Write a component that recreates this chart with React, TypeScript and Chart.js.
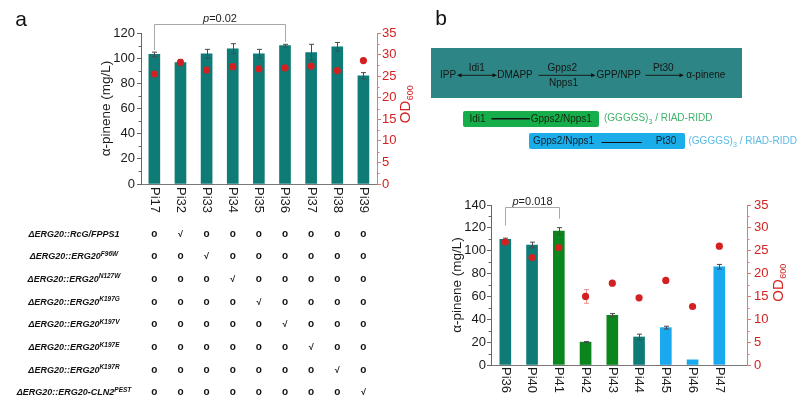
import React, { useEffect, useRef } from "react";
import { Chart, registerables } from "chart.js";

Chart.register(...registerables);

const FONT = "'Liberation Sans', Arial, Helvetica, sans-serif";
const PALETTE: Record<string, string> = { teal: "#0e7b77", green: "#0b861d", blue: "#1aa8ee" };
const RED = "#d42020";
const AXIS_RED = "#e07878";

// ---------- Panel a data ----------
const strainsA = ["Pi17", "Pi32", "Pi33", "Pi34", "Pi35", "Pi36", "Pi37", "Pi38", "Pi39"];
const pineneA = [103, 96.5, 103.5, 107.5, 103.5, 110, 104.5, 109, 86];
const pineneErrA = [1.8, 2.5, 3.5, 4, 3.5, 1, 6.5, 3.5, 2.5];
const odA = [25.5, 28.2, 26.4, 27.2, 26.7, 26.9, 27.3, 26.3, 28.6];
const odErrA = [0, 0, 0, 0, 0, 0, 0, 0, 0];
const groupA = ["teal", "teal", "teal", "teal", "teal", "teal", "teal", "teal", "teal"];
const pineneTicksA = [0, 20, 40, 60, 80, 100, 120];
const odTicks = [0, 5, 10, 15, 20, 25, 30, 35];

// genotype table under panel a
const geneRows = [
  { base: "ΔERG20::RcG/FPPS1", sup: "" },
  { base: "ΔERG20::ERG20", sup: "F96W" },
  { base: "ΔERG20::ERG20", sup: "N127W" },
  { base: "ΔERG20::ERG20", sup: "K197G" },
  { base: "ΔERG20::ERG20", sup: "K197V" },
  { base: "ΔERG20::ERG20", sup: "K197E" },
  { base: "ΔERG20::ERG20", sup: "K197R" },
  { base: "ΔERG20::ERG20-CLN2", sup: "PEST" },
];
const checkColumn = [1, 2, 3, 4, 5, 6, 7, 8];

// ---------- Panel b data ----------
const strainsB = ["Pi36", "Pi40", "Pi41", "Pi42", "Pi43", "Pi44", "Pi45", "Pi46", "Pi47"];
const pineneB = [110, 105, 117.2, 20, 43.5, 24.5, 32.7, 4.5, 86];
const pineneErrB = [1, 2.5, 3, 0.5, 1.5, 2.5, 1.2, 0, 2];
const odB = [26.9, 23.5, 25.7, 15.0, 17.9, 14.7, 18.5, 12.8, 26.0];
const odErrB = [0.4, 0, 0, 1.5, 0, 0, 0, 0, 0];
const groupB = ["teal", "teal", "green", "green", "green", "teal", "blue", "blue", "blue"];
const pineneTicksB = [0, 20, 40, 60, 80, 100, 120, 140];

type Panel = {
  labels: string[];
  values: number[];
  errs: number[];
  od: number[];
  odErr: number[];
  colors: string[];
  yTicks: number[];
  odTicks: number[];
  width: number;
  height: number;
  area: { left: number; right: number; top: number; bottom: number };
  xMin: number;
  xMax: number;
  bracket: { from: number; to: number; level: number; footFrom: number; footTo: number; text: string };
  labelGap: number;
  yTitleX: number;
  odTitleX: number;
  odTitleDy: number;
  leftPad: number;
  rightPad: number;
};

const panelA: Panel = {
  labels: strainsA,
  values: pineneA,
  errs: pineneErrA,
  od: odA,
  odErr: odErrA,
  colors: groupA.map((g) => PALETTE[g]),
  yTicks: pineneTicksA,
  odTicks: odTicks,
  width: 420,
  height: 232,
  area: { left: 141, right: 377, top: 33, bottom: 184 },
  xMin: -0.51,
  xMax: 8.52,
  bracket: { from: 0, to: 5, level: 127, footFrom: 106.5, footTo: 113, text: "=0.02" },
  labelGap: 3,
  yTitleX: 106,
  odTitleX: 404,
  odTitleDy: -4,
  leftPad: 2,
  rightPad: 1,
};

const panelB: Panel = {
  labels: strainsB,
  values: pineneB,
  errs: pineneErrB,
  od: odB,
  odErr: odErrB,
  colors: groupB.map((g) => PALETTE[g]),
  yTicks: pineneTicksB,
  odTicks: odTicks,
  width: 400,
  height: 218,
  area: { left: 91, right: 347, top: 20, bottom: 180 },
  xMin: -0.535,
  xMax: 9.035,
  bracket: { from: 0, to: 2, level: 138, footFrom: 122, footTo: 128, text: "=0.018" },
  labelGap: 2,
  yTitleX: 57,
  odTitleX: 377,
  odTitleDy: -2,
  leftPad: 1,
  rightPad: 3,
};

function makeDecor(p: Panel) {
  return {
    id: "decor",
    afterDatasetDraw(chart: any, args: any) {
      if (args.index !== 0) return;
      const ctx = chart.ctx;
      const xs = chart.scales.x;
      const ys = chart.scales.y;
      ctx.save();
      ctx.strokeStyle = "#4a4a4a";
      ctx.lineWidth = 1;
      p.values.forEach((v, i) => {
        const e = p.errs[i];
        if (!e) return;
        const x = Math.round(xs.getPixelForValue(i)) + 0.5;
        const yt = ys.getPixelForValue(v + e);
        const yb = ys.getPixelForValue(v - e);
        ctx.beginPath();
        ctx.moveTo(x, yt);
        ctx.lineTo(x, yb);
        ctx.moveTo(x - 2.5, yt);
        ctx.lineTo(x + 2.5, yt);
        ctx.moveTo(x - 2.5, yb);
        ctx.lineTo(x + 2.5, yb);
        ctx.stroke();
      });
      // OD error bars
      const y1 = chart.scales.y1;
      ctx.strokeStyle = "#e89090";
      p.od.forEach((v, i) => {
        const e = p.odErr[i];
        if (!e) return;
        const x = Math.round(xs.getPixelForValue(i)) + 0.5;
        const yt = y1.getPixelForValue(v + e);
        const yb = y1.getPixelForValue(v - e);
        ctx.beginPath();
        ctx.moveTo(x, yt);
        ctx.lineTo(x, yb);
        ctx.moveTo(x - 2.5, yt);
        ctx.lineTo(x + 2.5, yt);
        ctx.moveTo(x - 2.5, yb);
        ctx.lineTo(x + 2.5, yb);
        ctx.stroke();
      });
      ctx.restore();
    },
    afterDraw(chart: any) {
      const ctx = chart.ctx;
      const xs = chart.scales.x;
      const ys = chart.scales.y;
      const y1 = chart.scales.y1;
      const area = chart.chartArea;
      ctx.save();

      // minor ticks
      ctx.lineWidth = 1;
      ctx.strokeStyle = "#666";
      const stepY = p.yTicks[1] - p.yTicks[0];
      for (let k = 0; k < p.yTicks.length - 1; k++) {
        const yy = Math.round(ys.getPixelForValue(p.yTicks[k] + stepY / 2)) + 0.5;
        ctx.beginPath();
        ctx.moveTo(area.left, yy);
        ctx.lineTo(area.left - 2.5, yy);
        ctx.stroke();
      }
      ctx.strokeStyle = AXIS_RED;
      const stepO = p.odTicks[1] - p.odTicks[0];
      for (let k = 0; k < p.odTicks.length - 1; k++) {
        const yy = Math.round(y1.getPixelForValue(p.odTicks[k] + stepO / 2)) + 0.5;
        ctx.beginPath();
        ctx.moveTo(area.right, yy);
        ctx.lineTo(area.right + 2.5, yy);
        ctx.stroke();
      }

      // bracket with p value
      const b = p.bracket;
      const bx1 = Math.round(xs.getPixelForValue(b.from)) + 0.5;
      const bx2 = Math.round(xs.getPixelForValue(b.to)) + 0.5;
      const by = Math.round(ys.getPixelForValue(b.level)) + 0.5;
      ctx.strokeStyle = "#a8a8a8";
      ctx.beginPath();
      ctx.moveTo(bx1, ys.getPixelForValue(b.footFrom));
      ctx.lineTo(bx1, by);
      ctx.lineTo(bx2, by);
      ctx.lineTo(bx2, ys.getPixelForValue(b.footTo));
      ctx.stroke();
      ctx.fillStyle = "#222";
      ctx.textBaseline = "alphabetic";
      ctx.textAlign = "left";
      ctx.font = `italic 11px ${FONT}`;
      const wP = ctx.measureText("p").width;
      ctx.font = `11px ${FONT}`;
      const wR = ctx.measureText(b.text).width;
      const tx = (bx1 + bx2) / 2 - (wP + wR) / 2;
      ctx.font = `italic 11px ${FONT}`;
      ctx.fillText("p", tx, by - 2.5);
      ctx.font = `11px ${FONT}`;
      ctx.fillText(b.text, tx + wP, by - 2.5);

      // x labels rotated clockwise
      ctx.font = `13px ${FONT}`;
      ctx.fillStyle = "#1a1a1a";
      p.labels.forEach((l, i) => {
        const x = xs.getPixelForValue(i);
        ctx.save();
        ctx.translate(x, area.bottom + p.labelGap);
        ctx.rotate(Math.PI / 2);
        ctx.textAlign = "left";
        ctx.textBaseline = "middle";
        ctx.fillText(l, 0, 0);
        ctx.restore();
      });

      // y title
      const cy = (area.top + area.bottom) / 2;
      ctx.save();
      ctx.translate(p.yTitleX, cy);
      ctx.rotate(-Math.PI / 2);
      ctx.textAlign = "center";
      ctx.textBaseline = "middle";
      ctx.font = `13.5px ${FONT}`;
      ctx.fillStyle = "#1a1a1a";
      ctx.fillText("α-pinene (mg/L)", 0, 0);
      ctx.restore();

      // OD600 title
      ctx.save();
      ctx.translate(p.odTitleX, cy + p.odTitleDy);
      ctx.rotate(-Math.PI / 2);
      ctx.fillStyle = RED;
      ctx.textAlign = "left";
      ctx.textBaseline = "alphabetic";
      ctx.font = `15px ${FONT}`;
      const wOD = ctx.measureText("OD").width;
      ctx.font = `9px ${FONT}`;
      const wSub = ctx.measureText("600").width;
      const sx = -(wOD + wSub) / 2;
      ctx.font = `15px ${FONT}`;
      ctx.fillText("OD", sx, 5.5);
      ctx.font = `9px ${FONT}`;
      ctx.fillText("600", sx + wOD + 0.5, 9);
      ctx.restore();

      ctx.restore();
    },
  };
}

function buildConfig(p: Panel): any {
  return {
    type: "bar",
    data: {
      datasets: [
        {
          type: "bar",
          data: p.values.map((v, i) => ({ x: i, y: v })),
          backgroundColor: p.colors,
          borderWidth: 0,
          barThickness: 11,
          xAxisID: "x",
          yAxisID: "y",
          order: 1,
        },
        {
          type: "scatter",
          data: p.od.map((v, i) => ({ x: i, y: v })),
          backgroundColor: RED,
          borderColor: RED,
          borderWidth: 0,
          pointRadius: 3.6,
          xAxisID: "x",
          yAxisID: "y1",
          order: 0,
        },
      ],
    },
    options: {
      responsive: false,
      animation: false,
      devicePixelRatio: 1,
      layout: { padding: { top: p.area.top, left: 0, right: 0, bottom: 0 } },
      plugins: { legend: { display: false }, tooltip: { enabled: false } },
      scales: {
        x: {
          type: "linear",
          min: p.xMin,
          max: p.xMax,
          offset: false,
          grid: { display: true, drawOnChartArea: false, drawTicks: false, offset: false },
          border: { display: true, color: "#777", width: 1 },
          ticks: { display: false },
          afterFit: (s: any) => {
            s.height = p.height - p.area.bottom;
          },
        },
        y: {
          type: "linear",
          position: "left",
          min: p.yTicks[0],
          max: p.yTicks[p.yTicks.length - 1],
          afterBuildTicks: (s: any) => {
            s.ticks = p.yTicks.map((v) => ({ value: v }));
          },
          ticks: { font: { family: FONT, size: 13 }, color: "#1a1a1a", padding: p.leftPad },
          grid: { drawOnChartArea: false, drawTicks: true, tickLength: 4, color: "#666" },
          border: { display: true, color: "#666", width: 1 },
          afterFit: (s: any) => {
            s.width = p.area.left;
          },
        },
        y1: {
          type: "linear",
          position: "right",
          min: p.odTicks[0],
          max: p.odTicks[p.odTicks.length - 1],
          afterBuildTicks: (s: any) => {
            s.ticks = p.odTicks.map((v) => ({ value: v }));
          },
          ticks: { font: { family: FONT, size: 13 }, color: RED, padding: p.rightPad },
          grid: { drawOnChartArea: false, drawTicks: true, tickLength: 4, color: AXIS_RED },
          border: { display: true, color: AXIS_RED, width: 1 },
          afterFit: (s: any) => {
            s.width = p.width - p.area.right;
          },
        },
      },
    },
    plugins: [makeDecor(p)],
  };
}

function ChartPanel({ p, left, top }: { p: Panel; left: number; top: number }) {
  const ref = useRef<HTMLCanvasElement>(null);
  useEffect(() => {
    const chart = new Chart(ref.current as HTMLCanvasElement, buildConfig(p));
    return () => chart.destroy();
  }, []);
  return (
    <canvas
      ref={ref}
      width={p.width}
      height={p.height}
      style={{ position: "absolute", left, top, width: p.width, height: p.height }}
    />
  );
}

function colX(i: number) {
  const a = panelA.area;
  return a.left + ((i - panelA.xMin) * (a.right - a.left)) / (panelA.xMax - panelA.xMin);
}

const TABLE_TOP = 233.5;
const TABLE_ROW = 22.7;

function Txt({ x, y, children, size = 10, color = "#151515", anchor = "middle" }: any) {
  return (
    <div
      style={{
        position: "absolute",
        left: x,
        top: y,
        transform: `translate(${anchor === "start" ? "0" : "-50%"}, -50%)`,
        fontSize: size,
        color,
        whiteSpace: "nowrap",
        lineHeight: 1,
      }}
    >
      {children}
    </div>
  );
}

function Arrow({ x1, x2, y, both = false }: { x1: number; x2: number; y: number; both?: boolean }) {
  return (
    <g>
      <line x1={both ? x1 + 3 : x1} y1={y} x2={x2 - 3} y2={y} stroke="#111" strokeWidth={0.9} />
      <polygon points={`${x2},${y} ${x2 - 4.5},${y - 2} ${x2 - 4.5},${y + 2}`} fill="#111" />
      {both && <polygon points={`${x1},${y} ${x1 + 4.5},${y - 2} ${x1 + 4.5},${y + 2}`} fill="#111" />}
    </g>
  );
}

export default function App() {
  return (
    <div
      style={{
        position: "absolute",
        left: 0,
        top: 0,
        width: 800,
        height: 403,
        background: "#fff",
        fontFamily: FONT,
        overflow: "hidden",
      }}
    >
      <ChartPanel p={panelA} left={0} top={0} />
      <ChartPanel p={panelB} left={400} top={185} />

      {/* panel letters */}
      <Txt x={21} y={18} size={21} color="#111">a</Txt>
      <Txt x={441} y={17} size={21} color="#111">b</Txt>

      {/* genotype table */}
      {geneRows.map((r, k) => {
        const y = TABLE_TOP + k * TABLE_ROW;
        return (
          <React.Fragment key={k}>
            <div
              style={{
                position: "absolute",
                left: 0,
                width: 148,
                top: y - 7,
                height: 14,
                lineHeight: "14px",
                textAlign: "center",
                fontStyle: "italic",
                fontWeight: "bold",
                fontSize: 9,
                color: "#111",
                whiteSpace: "nowrap",
              }}
            >
              {r.base}
              {r.sup && (
                <span style={{ fontSize: 6.5, position: "relative", top: -3.5 }}>{r.sup}</span>
              )}
            </div>
            {strainsA.map((_, i) => (
              <div
                key={i}
                style={{
                  position: "absolute",
                  left: colX(i) - 6,
                  width: 12,
                  top: y - 7,
                  height: 14,
                  lineHeight: "14px",
                  textAlign: "center",
                  fontWeight: "bold",
                  fontSize: i === checkColumn[k] ? 9 : 10,
                  color: "#111",
                }}
              >
                {i === checkColumn[k] ? "√" : "o"}
              </div>
            ))}
          </React.Fragment>
        );
      })}

      {/* pathway diagram */}
      <div style={{ position: "absolute", left: 431, top: 48, width: 311, height: 50, background: "#2e8585" }} />
      <div style={{ position: "absolute", left: 463, top: 111, width: 135.5, height: 15.5, background: "#16ae4b", borderRadius: 2 }} />
      <div style={{ position: "absolute", left: 529, top: 133, width: 155.5, height: 15.5, background: "#1bade9", borderRadius: 2 }} />
      <svg
        width={800}
        height={403}
        style={{ position: "absolute", left: 0, top: 0, pointerEvents: "none" }}
      >
        <Arrow x1={457} x2={497} y={75.3} both />
        <Arrow x1={538.5} x2={595.5} y={75.3} />
        <Arrow x1={645.5} x2={684} y={75.3} />
        <line x1={491.5} y1={118.8} x2={530} y2={118.8} stroke="#111" strokeWidth={1.5} />
        <line x1={601.5} y1={142.5} x2={642} y2={142.5} stroke="#111" strokeWidth={1.2} />
      </svg>
      <Txt x={448} y={74.5}>IPP</Txt>
      <Txt x={476.8} y={67.5}>Idi1</Txt>
      <Txt x={515} y={74.5}>DMAPP</Txt>
      <Txt x={562.3} y={68}>Gpps2</Txt>
      <Txt x={563.5} y={82.5}>Npps1</Txt>
      <Txt x={618.7} y={74.5}>GPP/NPP</Txt>
      <Txt x={663.3} y={68}>Pt30</Txt>
      <Txt x={705.8} y={74.5}>α-pinene</Txt>

      <Txt x={477.5} y={118.7} color="#16240f">Idi1</Txt>
      <Txt x={561.3} y={118.7} color="#16240f">Gpps2/Npps1</Txt>
      <Txt x={604} y={118} anchor="start" color="#3db46a">
        (GGGGS)<span style={{ fontSize: 7, position: "relative", top: 3 }}>3</span> / RIAD-RIDD
      </Txt>

      <Txt x={563.5} y={141} color="#10202a">Gpps2/Npps1</Txt>
      <Txt x={666} y={141} color="#10202a">Pt30</Txt>
      <Txt x={688.5} y={141} anchor="start" color="#5bbbe4">
        (GGGGS)<span style={{ fontSize: 7, position: "relative", top: 3 }}>3</span> / RIAD-RIDD
      </Txt>
    </div>
  );
}
